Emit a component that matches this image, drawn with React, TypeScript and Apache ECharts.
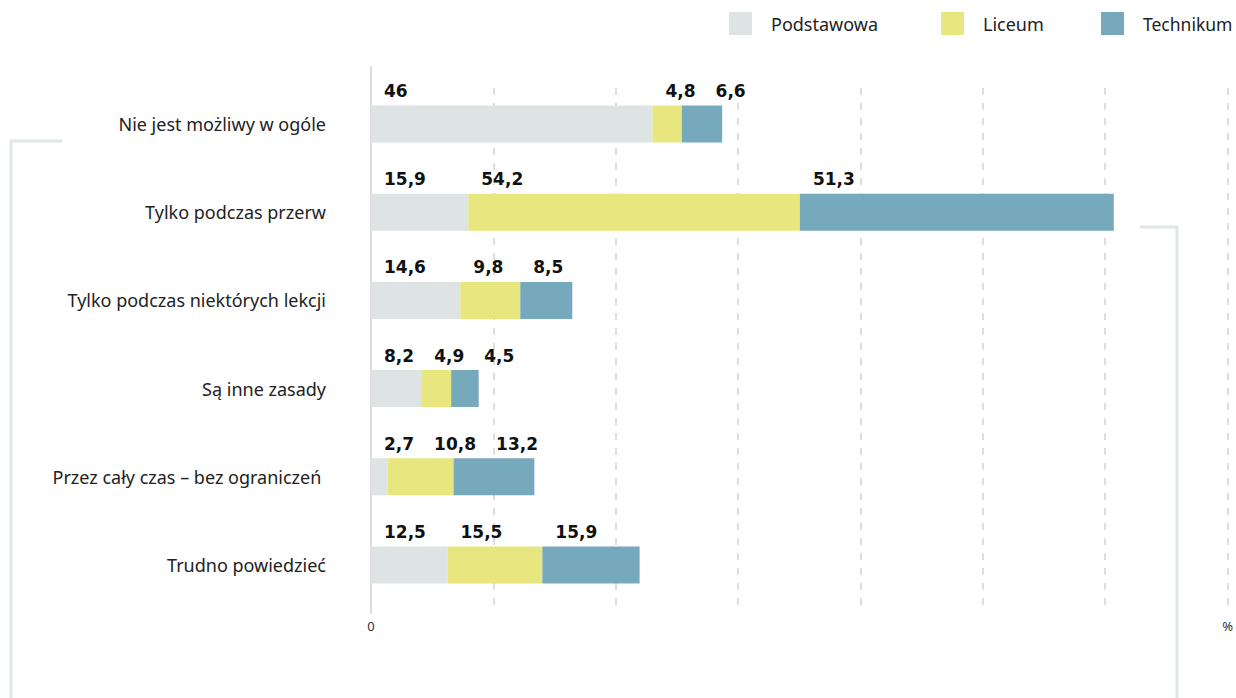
import React, { useEffect, useRef } from 'react';
import * as echarts from 'echarts';

const categories = [
  'Nie jest możliwy w ogóle',
  'Tylko podczas przerw',
  'Tylko podczas niektórych lekcji',
  'Są inne zasady',
  'Przez cały czas – bez ograniczeń ',
  'Trudno powiedzieć',
];
const podstawowa = [46, 15.9, 14.6, 8.2, 2.7, 12.5];
const liceum = [4.8, 54.2, 9.8, 4.9, 10.8, 15.5];
const technikum = [6.6, 51.3, 8.5, 4.5, 13.2, 15.9];
const seriesNames = ['Podstawowa', 'Liceum', 'Technikum'];
const seriesColors = ['#dee3e3', '#e8e67e', '#76a9bb'];
const xMin = 0;
const xMax = 140;
const xInterval = 20;

const labelFont = '"DejaVu Sans", sans-serif';
const textFont = '"Noto Sans", sans-serif';
const fmt = (v: number) => String(v).replace('.', ',');

export default function App() {
  const ref = useRef<HTMLDivElement>(null);
  useEffect(() => {
    document.body.style.margin = '0';
    const chart = echarts.init(ref.current!, null, { renderer: 'svg' });
    const allData = [podstawowa, liceum, technikum];

    const buildSeries = (offsets: number[][] | null) =>
      allData.map((arr, s) => ({
        name: seriesNames[s],
        type: 'bar',
        stack: 'total',
        barWidth: 37,
        itemStyle: { color: seriesColors[s] },
        label: {
          show: true,
          formatter: (p: any) => fmt(p.value),
          color: '#111',
          fontWeight: 'bold',
          fontSize: 17,
          fontFamily: labelFont,
          align: 'left',
          verticalAlign: 'bottom',
        },
        data: arr.map((v, r) => ({
          value: v,
          label: { position: [offsets ? offsets[s][r] : 13, -6] },
        })),
      }));

    const option: any = {
      animation: false,
      grid: { left: 371, right: 4, top: 80, bottom: 89 },
      legend: seriesNames.map((n, i) => ({
        data: [n],
        left: [729, 941, 1101][i],
        top: 12,
        padding: 0,
        itemWidth: 23,
        itemHeight: 23,
        icon: 'rect',
        selectedMode: false,
        textStyle: { fontSize: i === 2 ? 17.5 : 18, color: '#222', fontFamily: textFont, padding: [0, 0, 0, 14] },
      })),
      xAxis: {
        type: 'value',
        min: xMin,
        max: xMax,
        interval: xInterval,
        axisLine: { show: false },
        axisTick: { show: false },
        axisLabel: {
          formatter: (v: number) => (v === xMin ? '0' : v === xMax ? '%' : ''),
          fontSize: 13,
          color: '#333',
          fontFamily: textFont,
          margin: 10,
        },
        splitLine: {
          show: true,
          interval: (_i: number, v: number) => v !== xMin,
          lineStyle: { color: '#dddddd', width: 2, type: [7, 8], dashOffset: 7 },
        },
      },
      yAxis: {
        type: 'category',
        data: categories,
        inverse: true,
        axisTick: { show: false },
        axisLine: { show: true, lineStyle: { color: '#dddddd', width: 2 } },
        axisLabel: { fontSize: 18, color: '#222', fontFamily: textFont, margin: 45 },
      },
      graphic: [
        { type: 'line', shape: { x1: 371, y1: 66, x2: 371, y2: 80 }, style: { stroke: '#dddddd', lineWidth: 2 } },
        { type: 'line', shape: { x1: 371, y1: 609, x2: 371, y2: 614 }, style: { stroke: '#dddddd', lineWidth: 2 } },
        { type: 'polyline', shape: { points: [[62, 141], [11, 141], [11, 698]] }, style: { stroke: '#e0e5e5', lineWidth: 3, fill: 'none' } },
        { type: 'polyline', shape: { points: [[1140, 227], [1177, 227], [1177, 698]] }, style: { stroke: '#e0e5e5', lineWidth: 3, fill: 'none' } },
      ],
      series: buildSeries(null),
    };
    chart.setOption(option);

    // place value labels above each segment, pushing them right when they would collide
    const ctx = document.createElement('canvas').getContext('2d')!;
    ctx.font = 'bold 17px ' + labelFont;
    const offsets: number[][] = allData.map(() => []);
    for (let r = 0; r < categories.length; r++) {
      let cum = 0;
      let prevEnd = -Infinity;
      for (let s = 0; s < allData.length; s++) {
        const startPx = chart.convertToPixel({ xAxisIndex: 0 }, cum) as number;
        const x = Math.max(startPx + 13, prevEnd + 20);
        offsets[s][r] = x - startPx;
        prevEnd = x + ctx.measureText(fmt(allData[s][r])).width;
        cum += allData[s][r];
      }
    }
    chart.setOption({ series: buildSeries(offsets) });

    return () => chart.dispose();
  }, []);
  return <div ref={ref} style={{ width: 1236, height: 698 }} />;
}
